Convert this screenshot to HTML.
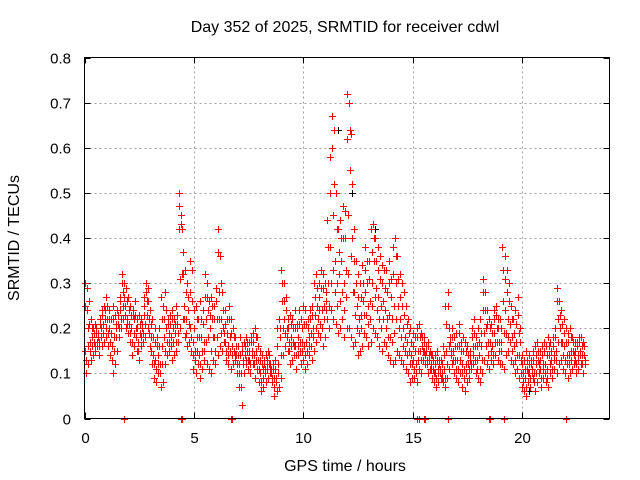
<!DOCTYPE html>
<html><head><meta charset="utf-8"><style>
body{margin:0;background:#fff;}
svg{display:block;font-family:"Liberation Sans",sans-serif;}
</style></head><body>
<svg id="chart" width="640" height="480" viewBox="0 0 640 480" xmlns="http://www.w3.org/2000/svg">
<text x="345" y="32" font-size="16" text-anchor="middle" fill="#000">Day 352 of 2025, SRMTID for receiver cdwl</text>
<text x="345" y="471" font-size="16" text-anchor="middle" fill="#000">GPS time / hours</text>
<text x="19" y="238" font-size="16" text-anchor="middle" fill="#000" transform="rotate(-90 19 238)">SRMTID / TECUs</text>
<g id="grid"></g>
<g id="ticks"></g>
<g id="marks"></g>
<rect x="84.5" y="57.5" width="525" height="361" fill="none" stroke="#000" stroke-width="1"/>
</svg>
<script>
const xTicks=[0,5,10,15,20];
const yTicks=[0,0.1,0.2,0.3,0.4,0.5,0.6,0.7,0.8];
const yTickLabels=["0","0.1","0.2","0.3","0.4","0.5","0.6","0.7","0.8"];
const hiVals=[.30,.29,.26,.22,.20,.21,.19,.22,.24,.25,
.27,.24,.22,.25,.23,.24,.27,.32,.30,.29,
.27,.25,.24,.26,.22,.23,.22,.27,.30,.29,
.24,.22,.20,.18,.20,.27,.25,.28,.22,.23,
.24,.22,.25,.50,.45,.37,.33,.30,.35,.33,
.24,.25,.22,.26,.24,.32,.30,.26,.27,.25,
.29,.42,.36,.28,.24,.22,.25,.22,.20,.18,
.16,.18,.16,.17,.18,.17,.18,.19,.20,.18,
.15,.14,.13,.14,.15,.12,.12,.13,.20,.22,
.33,.30,.27,.22,.23,.22,.24,.21,.24,.22,
.25,.24,.22,.24,.25,.30,.32,.30,.33,.32,
.30,.44,.58,.67,.64,.50,.42,.44,.47,.46,
.72,.70,.63,.42,.35,.32,.30,.34,.38,.35,
.35,.42,.43,.40,.38,.36,.34,.33,.33,.35,
.31,.38,.40,.36,.32,.30,.28,.25,.22,.20,
.19,.18,.20,.21,.19,.18,.16,.17,.15,.14,
.14,.15,.13,.13,.16,.25,.28,.18,.20,.18,
.19,.21,.17,.18,.17,.16,.15,.20,.22,.18,
.20,.22,.31,.28,.24,.22,.21,.24,.25,.22,
.22,.38,.36,.33,.30,.25,.22,.24,.27,.20,
.14,.13,.15,.14,.13,.15,.16,.17,.15,.16,
.17,.16,.18,.17,.18,.20,.29,.26,.24,.22,
.20,.19,.20,.18,.17,.17,.18,.18,.17];
const upMidVals=[.25,.24,.21,.20,.19,.20,.18,.21,.23,.24,
.25,.22,.19,.22,.21,.23,.26,.30,.27,.26,
.24,.23,.23,.23,.20,.21,.21,.25,.28,.26,
.21,.18,.17,.16,.16,.22,.22,.24,.21,.21,
.22,.21,.23,.47,.43,.32,.28,.27,.28,.26,
.20,.22,.18,.22,.21,.27,.27,.23,.25,.22,
.26,.37,.30,.24,.21,.19,.22,.19,.18,.16,
.14,.14,.15,.16,.17,.15,.17,.17,.18,.16,
.13,.12,.12,.13,.14,.11,.11,.11,.16,.20,
.30,.26,.24,.20,.21,.20,.20,.20,.21,.20,
.21,.21,.20,.22,.23,.27,.29,.27,.29,.29,
.28,.38,.50,.60,.52,.42,.37,.40,.40,.40,
.62,.64,.52,.35,.30,.27,.27,.30,.33,.30,
.31,.37,.40,.35,.33,.31,.30,.29,.28,.30,
.27,.32,.36,.31,.27,.25,.23,.21,.19,.17,
.16,.15,.18,.18,.18,.17,.15,.16,.14,.13,
.12,.13,.12,.12,.14,.21,.25,.17,.18,.16,
.16,.19,.15,.15,.15,.14,.14,.18,.19,.16,
.17,.19,.28,.24,.21,.20,.19,.22,.23,.20,
.20,.33,.31,.28,.26,.22,.19,.21,.23,.17,
.12,.11,.13,.12,.12,.13,.14,.15,.13,.14,
.15,.14,.16,.15,.16,.18,.26,.23,.21,.19,
.17,.17,.18,.17,.15,.16,.17,.16,.16];
const midVals=[.15,.20,.17,.18,.17,.19,.17,.20,.21,.22,
.22,.20,.16,.18,.20,.21,.24,.28,.25,.22,
.21,.20,.22,.20,.17,.19,.20,.23,.26,.22,
.18,.14,.13,.14,.12,.16,.18,.20,.19,.18,
.20,.19,.21,.42,.42,.25,.22,.24,.20,.17,
.15,.18,.14,.18,.17,.22,.24,.20,.22,.18,
.22,.28,.22,.20,.17,.16,.18,.16,.15,.14,
.12,.10,.13,.14,.15,.13,.15,.14,.15,.13,
.10,.11,.11,.12,.12,.10,.09,.09,.12,.18,
.26,.22,.20,.17,.18,.17,.16,.18,.17,.17,
.16,.17,.18,.19,.20,.23,.25,.24,.24,.25,
.26,.30,.38,.45,.35,.30,.32,.35,.30,.33,
.45,.55,.40,.28,.25,.22,.23,.26,.28,.25,
.26,.30,.35,.29,.27,.25,.26,.24,.22,.23,
.22,.25,.30,.25,.22,.20,.18,.17,.15,.14,
.13,.12,.15,.15,.16,.15,.13,.14,.12,.11,
.10,.11,.11,.10,.11,.15,.20,.15,.15,.13,
.13,.16,.12,.11,.12,.12,.13,.16,.16,.13,
.14,.16,.24,.20,.17,.17,.16,.19,.20,.17,
.17,.26,.24,.22,.21,.18,.16,.17,.19,.13,
.10,.09,.11,.10,.11,.10,.12,.13,.11,.12,
.12,.11,.14,.13,.14,.15,.22,.20,.17,.16,
.14,.14,.15,.15,.13,.14,.15,.14,.14];
const loMidVals=[.13,.16,.15,.16,.16,.17,.16,.18,.19,.20,
.19,.17,.13,.15,.18,.20,.22,.25,.23,.21,
.19,.17,.19,.18,.15,.18,.19,.21,.23,.19,
.15,.12,.11,.12,.10,.12,.15,.17,.17,.16,
.17,.17,.19,.31,.32,.22,.19,.21,.18,.14,
.13,.15,.12,.15,.15,.17,.18,.15,.18,.15,
.18,.22,.19,.19,.15,.14,.15,.14,.14,.12,
.10,.07,.12,.13,.13,.12,.14,.12,.13,.11,
.08,.09,.10,.11,.11,.09,.07,.08,.10,.14,
.20,.19,.18,.15,.16,.16,.14,.16,.15,.15,
.14,.15,.16,.16,.18,.20,.22,.21,.20,.22,
.24,.25,.30,.33,.28,.25,.26,.28,.24,.27,
.32,.36,.28,.23,.20,.19,.20,.23,.23,.21,
.22,.25,.27,.24,.22,.20,.22,.20,.18,.18,
.17,.19,.22,.20,.18,.16,.15,.14,.12,.12,
.11,.10,.13,.13,.15,.14,.12,.13,.11,.10,
.09,.10,.10,.09,.09,.12,.16,.14,.13,.11,
.11,.13,.10,.09,.10,.11,.12,.14,.13,.11,
.11,.13,.19,.16,.14,.15,.14,.17,.17,.15,
.15,.19,.19,.18,.17,.15,.13,.14,.14,.10,
.08,.07,.10,.09,.10,.08,.10,.12,.09,.11,
.10,.09,.12,.11,.13,.13,.17,.17,.14,.13,
.12,.12,.13,.14,.12,.13,.14,.12,.13];
const loVals=[.10,.12,.13,.14,.15,.16,.14,.16,.17,.18,
.16,.14,.10,.12,.15,.18,.20,.22,.20,.19,
.17,.14,.16,.15,.13,.16,.17,.18,.20,.16,
.12,.09,.08,.10,.07,.08,.12,.14,.15,.13,
.14,.15,.17,.20,.22,.18,.16,.17,.15,.11,
.10,.12,.09,.11,.13,.12,.11,.10,.13,.12,
.14,.16,.15,.17,.13,.12,.11,.12,.13,.10,
.07,.03,.10,.12,.11,.10,.12,.09,.11,.08,
.06,.07,.08,.09,.10,.08,.05,.06,.07,.09,
.14,.16,.15,.12,.13,.14,.11,.14,.12,.13,
.11,.12,.14,.13,.15,.17,.19,.18,.16,.18,
.22,.20,.24,.22,.21,.19,.20,.22,.18,.20,
.20,.18,.16,.17,.14,.15,.16,.19,.18,.16,
.17,.20,.19,.18,.16,.15,.17,.16,.14,.13,
.12,.13,.15,.14,.13,.12,.11,.10,.08,.09,
.09,.08,.11,.10,.13,.12,.10,.11,.09,.08,
.07,.08,.09,.08,.07,.09,.11,.12,.10,.09,
.08,.10,.07,.06,.08,.09,.11,.12,.10,.09,
.08,.10,.13,.12,.11,.13,.12,.14,.13,.12,
.12,.11,.14,.15,.13,.12,.10,.11,.09,.07,
.06,.05,.08,.07,.09,.06,.08,.10,.07,.09,
.08,.07,.10,.09,.11,.10,.12,.13,.11,.10,
.09,.10,.11,.12,.10,.11,.12,.10,.12];
const zeroHours=[1.8,4.4,4.45,6.7,6.75,15.2,15.3,15.5,15.55,16.6,18.5,18.55,19.2,22.0];
const blackHours=[11.6,12.25,13.3,20.3];
const blackVals=[0.64,0.50,0.42,0.06];
const tStep=0.1;

const X0=84.5,X1=609.5,Y0=418.5,Y1=57.5,XMAX=24,YMAX=0.8;
const xs=v=>X0+(v/XMAX)*(X1-X0);
const ys=v=>Y0-(v/YMAX)*(Y0-Y1);
const NS="http://www.w3.org/2000/svg";
const grid=document.getElementById('grid'),ticks=document.getElementById('ticks'),marks=document.getElementById('marks');
function mk(tag,attrs,parent){const e=document.createElementNS(NS,tag);for(const k in attrs)e.setAttribute(k,attrs[k]);parent.appendChild(e);return e;}
xTicks.forEach((t,i)=>{
  const x=Math.round(xs(t))+0.5;
  if(t>0){const g=mk('line',{x1:x,y1:Y0,x2:x,y2:Y1,stroke:'#a0a0a0','stroke-dasharray':'2,3'},grid);
  
  }
  mk('line',{x1:x,y1:Y0,x2:x,y2:Y0-6,stroke:'#000'},ticks);
  mk('line',{x1:x,y1:Y1,x2:x,y2:Y1+6,stroke:'#000'},ticks);
  const l=mk('text',{x:x,y:443,'font-size':15,'text-anchor':'middle',fill:'#000'},ticks);
  l.textContent=String(t);
  
  
});
yTicks.forEach((t,i)=>{
  const y=Math.round(ys(t))+0.5;
  if(t>0&&t<YMAX){const g=mk('line',{x1:X0,y1:y,x2:X1,y2:y,stroke:'#a0a0a0','stroke-dasharray':'2,3'},grid);
  
  }
  mk('line',{x1:X0,y1:y,x2:X0+6,y2:y,stroke:'#000'},ticks);
  mk('line',{x1:X1,y1:y,x2:X1-6,y2:y,stroke:'#000'},ticks);
  const l=mk('text',{x:71,y:y+5,'font-size':15,'text-anchor':'end',fill:'#000'},ticks);
  l.textContent=yTickLabels[i];
  
  
});
function plus(h,v,color,name){
  const x=Math.round(xs(h))+0.5,y=Math.round(ys(v))+0.5;
  const p=mk('path',{d:`M${x-3.5} ${y}H${x+3.5}M${x} ${y-3.5}V${y+3.5}`,stroke:color,'stroke-width':1,fill:'none','shape-rendering':'crispEdges'},marks);
  
  
}
blackHours.forEach((h,i)=>plus(h,blackVals[i],'#000','black-point'));
[hiVals,upMidVals,midVals,loMidVals,loVals].forEach((arr,k)=>{
  arr.forEach((v,i)=>{
    plus(i*tStep+k*0.02,v,'#ff0000','red-point');
  });
});
zeroHours.forEach(h=>plus(h,0,'#ff0000','zero-point'));
</script>
</body></html>
